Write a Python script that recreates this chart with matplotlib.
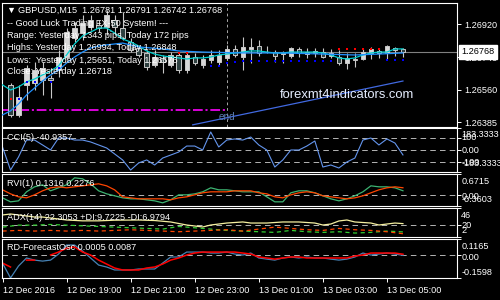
import numpy as np
import matplotlib
matplotlib.use('Agg')
import matplotlib.pyplot as plt
from matplotlib.transforms import blended_transform_factory

plt.rcParams['font.family'] = ['Liberation Sans', 'DejaVu Sans']
plt.rcParams['lines.scale_dashes'] = False

# ---------------- data (GBPUSD M15, one value per bar) ----------------
bar_idx = np.arange(0, 51)          # bar 0 = 12 Dec 17:00, 15 min per bar
candle_idx = np.arange(1, 51)

opens = [1.26588, 1.26424, 1.26588, 1.26598, 1.26615, 1.26626, 1.26669, 1.26740, 1.26844, 1.26871,
         1.26904, 1.26915, 1.26904, 1.26942, 1.26898, 1.26822, 1.26789, 1.26762, 1.26697, 1.26735,
         1.26697, 1.26751, 1.26669, 1.26740, 1.26697, 1.26724, 1.26713, 1.26735, 1.26784, 1.26740,
         1.26784, 1.26800, 1.26767, 1.26767, 1.26756, 1.26746, 1.26784, 1.26756, 1.26762, 1.26767,
         1.26746, 1.26740, 1.26707, 1.26729, 1.26729, 1.26762, 1.26773, 1.26762, 1.26789, 1.26781]
highs = [1.26598, 1.26588, 1.26697, 1.26713, 1.26713, 1.26642, 1.26778, 1.26898, 1.26931, 1.26969,
         1.26969, 1.26942, 1.26994, 1.26969, 1.26985, 1.26844, 1.26806, 1.26778, 1.26778, 1.26751,
         1.26767, 1.26767, 1.26767, 1.26762, 1.26751, 1.26778, 1.26778, 1.26806, 1.26806, 1.26849,
         1.26844, 1.26833, 1.26800, 1.26778, 1.26773, 1.26795, 1.26795, 1.26789, 1.26789, 1.26789,
         1.26784, 1.26778, 1.26762, 1.26762, 1.26784, 1.26795, 1.26789, 1.26806, 1.26795, 1.26791]
lows = [1.26413, 1.26413, 1.26506, 1.26560, 1.26533, 1.26517, 1.26631, 1.26724, 1.26822, 1.26833,
        1.26887, 1.26876, 1.26860, 1.26860, 1.26833, 1.26767, 1.26740, 1.26669, 1.26686, 1.26653,
        1.26686, 1.26653, 1.26653, 1.26697, 1.26680, 1.26707, 1.26697, 1.26724, 1.26740, 1.26669,
        1.26707, 1.26746, 1.26762, 1.26713, 1.26707, 1.26735, 1.26740, 1.26735, 1.26740, 1.26735,
        1.26735, 1.26697, 1.26675, 1.26686, 1.26724, 1.26729, 1.26735, 1.26729, 1.26746, 1.26742]
closes = [1.26424, 1.26522, 1.26680, 1.26669, 1.26680, 1.26615, 1.26740, 1.26876, 1.26898, 1.26925,
          1.26942, 1.26898, 1.26969, 1.26904, 1.26844, 1.26778, 1.26751, 1.26686, 1.26740, 1.26713,
          1.26751, 1.26669, 1.26751, 1.26707, 1.26729, 1.26751, 1.26751, 1.26784, 1.26751, 1.26795,
          1.26795, 1.26762, 1.26770, 1.26746, 1.26762, 1.26789, 1.26762, 1.26767, 1.26773, 1.26740,
          1.26762, 1.26707, 1.26735, 1.26724, 1.26767, 1.26784, 1.26762, 1.26800, 1.26778, 1.26768]

ma_fast = [1.26588, 1.26560, 1.26577, 1.26604, 1.26620, 1.26642, 1.26664, 1.26691, 1.26751, 1.26811,
           1.26855, 1.26876, 1.26898, 1.26898, 1.26871, 1.26838, 1.26822, 1.26800, 1.26773, 1.26756,
           1.26746, 1.26740, 1.26735, 1.26729, 1.26735, 1.26735, 1.26740, 1.26751, 1.26756, 1.26762,
           1.26767, 1.26773, 1.26773, 1.26767, 1.26762, 1.26762, 1.26767, 1.26767, 1.26767, 1.26767,
           1.26762, 1.26751, 1.26735, 1.26729, 1.26735, 1.26751, 1.26762, 1.26767, 1.26767, 1.26784,
           1.26784]
ma_slow_idx = [0, 1, 2, 3, 4, 5, 6, 7, 8, 9, 10, 11, 12, 13, 15, 17, 20, 22, 25, 30, 35, 40, 44, 47, 50]
ma_slow = [1.26424, 1.26446, 1.26484, 1.26533, 1.26571, 1.26609, 1.26642, 1.26669, 1.26707, 1.26740,
           1.26767, 1.26789, 1.26800, 1.26806, 1.26816, 1.26795, 1.26784, 1.26773, 1.26767, 1.26762,
           1.26762, 1.26756, 1.26751, 1.26756, 1.26762]

red_dot_idx = [1, 22, 23, 42, 43, 44, 45, 46, 47]
red_dot_px = [1.26511, 1.26762, 1.26762, 1.26784, 1.26784, 1.26784, 1.26784, 1.26784, 1.26784]
blue_dot_idx = [2, 3, 4, 6, 7, 26, 27, 28, 29, 30, 31, 32, 33, 34, 35, 36, 37, 38, 39, 40, 41, 48, 49, 50]
blue_dot_px = [1.26511, 1.26604, 1.26604, 1.26604, 1.26680, 1.26691, 1.26691, 1.26707, 1.26713,
               1.26718, 1.26718, 1.26718, 1.26718, 1.26718, 1.26718, 1.26718, 1.26718, 1.26718,
               1.26718, 1.26718, 1.26718, 1.26724, 1.26724, 1.26724]

trend_idx = [23.75, 50]
trend_px = [1.26370, 1.26609]
ycl_level = 1.26451      # magenta level, drawn up to the day break
day_break = 28
last_price = 1.26768
price_ticks = [1.26920, 1.26740, 1.26560, 1.26385]

cci = [25, -167, -58, 83, 83, 42, 0, 100, 100, 83, 83, 67, 42, 17, -33, -83, -167, -108, -83, -125,
       -67, -42, -17, 33, 33, 0, 150, 25, 83, 92, 83, 108, 42, 0, -142, -83, 0, 0, 33, 75,
       -142, -125, -150, -100, -67, 83, 100, 42, 92, 58, -40.9357]

rvi_main = [-0.097, -0.226, -0.194, 0.097, 0.258, 0.323, 0.129, 0.226, 0.323, 0.548,
            0.516, 0.355, 0.129, 0.032, -0.032, -0.097, -0.129, -0.129, -0.161, -0.194,
            -0.258, -0.161, 0.0, 0.0, 0.032, 0.097, 0.226, 0.161, 0.161, 0.129,
            0.097, 0.097, 0.097, -0.065, -0.226, -0.226, 0.065, 0.129, 0.129, 0.065,
            -0.032, -0.129, -0.194, -0.129, -0.032, 0.097, 0.29, 0.258, 0.258, 0.226, 0.1316]
rvi_signal = [0.161, 0.032, -0.065, -0.097, 0.0, 0.129, 0.226, 0.258, 0.226, 0.258,
              0.29, 0.323, 0.355, 0.29, 0.161, -0.065, -0.097, -0.129, -0.129, -0.129,
              -0.129, -0.161, -0.097, -0.065, 0.0, 0.065, 0.097, 0.097, 0.097, 0.129,
              0.129, 0.129, 0.065, 0.032, -0.065, -0.097, 0.0, 0.065, 0.097, 0.065,
              -0.032, -0.065, -0.097, -0.129, -0.097, -0.032, 0.065, 0.161, 0.226, 0.258, 0.2276]

adx_idx = [0, 1, 3, 4, 5, 6, 8, 10, 12, 14, 17, 19, 21, 23, 25, 26, 28, 30, 31, 33, 35, 37, 39,
           40, 41, 42, 43, 44, 46, 47, 49, 50]
adx = [35.4, 36.9, 33.9, 32.3, 32.3, 30.8, 27.8, 26.5, 26.5, 27.5, 27.8, 27.0, 24.8, 20.2, 17.2,
       20.2, 23.2, 24.8, 23.2, 23.2, 24.8, 24.8, 23.2, 20.2, 21.7, 26.3, 27.8, 24.8, 23.2, 20.2,
       23.2, 22.3053]
di_idx = [0, 2, 4, 6, 8, 10, 12, 14, 16, 18, 20, 22, 24, 26, 28, 30, 32, 34, 36, 38, 40, 42, 44,
          46, 48, 50]
di_plus = [17, 20, 20, 21, 20, 19, 18, 17, 16, 15, 14, 18, 16, 14, 12, 11, 10, 9, 12, 10, 9, 10,
           8, 9, 11, 9.7225]
di_minus = [11, 12, 11, 12, 11, 12, 11, 12, 13, 12, 11, 10, 11, 12, 13, 11, 14, 17, 15, 13, 12,
            15, 13, 12, 10, 6.9794]

rd_osc = [-0.054, -0.1598, -0.075, -0.018, -0.033, -0.040, -0.033, 0.010, 0.074, 0.074,
          0.031, -0.018, -0.068, -0.082, -0.103, -0.103, -0.103, -0.096, -0.096, -0.096,
          -0.054, -0.011, -0.011, 0.024, 0.024, 0.024, 0.017, 0.017, 0.024, 0.010,
          0.003, 0.017, -0.018, -0.026, -0.033, -0.018, -0.011, -0.018, -0.011, -0.018,
          -0.018, -0.026, -0.033, -0.026, -0.011, 0.017, 0.003, 0.010, 0.017, 0.010, 0.0005]
rd_sig = [-0.054, -0.082, np.nan, -0.033, -0.033, np.nan, 0.003, 0.024, 0.052, 0.060,
          0.024, 0.003, -0.033, -0.061, -0.089, -0.103, -0.103, -0.103, -0.089, -0.082,
          -0.061, -0.033, -0.018, 0.003, 0.017, 0.024, 0.024, 0.024, 0.024, 0.024,
          0.017, 0.010, -0.011, -0.018, -0.026, -0.018, -0.011, -0.011, -0.018, -0.018,
          -0.018, -0.018, -0.018, -0.018, -0.004, 0.003, 0.017, 0.017, 0.017, 0.017, 0.0087]

time_ticks = [0, 8, 16, 24, 32, 40, 48]
time_labels = ['12 Dec 2016', '12 Dec 19:00', '12 Dec 21:00', '12 Dec 23:00',
               '13 Dec 01:00', '13 Dec 03:00', '13 Dec 05:00']

# ---------------- figure ----------------
W, H = 500, 300
fig = plt.figure(figsize=(5, 3), dpi=100, facecolor='black')
FS = 6.6
WHITE = 'white'


def panel(top, bottom):
    ax = fig.add_axes([1.5 / W, 1 - bottom / H, 455.5 / W, (bottom - top) / H])
    ax.set_facecolor('black')
    for s in ax.spines.values():
        s.set_color(WHITE)
        s.set_linewidth(0.8)
    ax.set_xlim(-0.125, 56.75)
    ax.tick_params(axis='x', bottom=False, labelbottom=False)
    ax.yaxis.tick_right()
    ax.tick_params(axis='y', colors=WHITE, length=3, width=0.7, labelsize=FS, pad=2)
    return ax


def ptext(x, y, s, **kw):
    fig.text(x / W, 1 - y / H, s, fontsize=FS, va='center', ha='left', **kw)


ax = panel(2.7, 126.7)
ax.set_ylim(1.263598, 1.270362)

up = np.array(closes) >= np.array(opens)
ax.vlines(candle_idx, lows, highs, color='#c8c8c8', lw=0.8, zorder=2)
body_lo = np.minimum(opens, closes)
body_h = np.maximum(np.abs(np.array(closes) - np.array(opens)), 0.000015)
ax.bar(candle_idx, body_h, bottom=body_lo, width=0.55,
       color=np.where(up, '#d8d8d8', '#2e4040'), edgecolor='#c8c8c8', linewidth=0.7, zorder=3)

ax.plot(bar_idx, ma_fast, color='#00d0d0', lw=0.9, zorder=4)
ax.plot(ma_slow_idx, ma_slow, color='#1e90ff', lw=0.9, zorder=4)
ax.plot(red_dot_idx, red_dot_px, 's', color='#ff0000', ms=1.6, mew=0, zorder=5)
ax.plot(blue_dot_idx, blue_dot_px, 's', color='#0000ff', ms=1.6, mew=0, zorder=5)

ax.axhline(last_price, color='#808080', lw=0.8, zorder=1)
ax.axvline(day_break, color='#a8a8a8', lw=0.7, dashes=(2, 2), zorder=1)
ax.plot([-0.125, day_break], [ycl_level] * 2, color='#ff00ff', lw=1.2,
        dashes=(7, 2, 1.5, 2), zorder=2)
ax.plot(trend_idx, trend_px, color='#4169e1', lw=0.9, zorder=2)
ax.text(27.0, 1.26413, 'end', color='#5b7db0', fontsize=FS + 0.6, va='center', ha='left')
ax.text(34.6, 1.26535, 'forexmt4indicators.com', color='#e6eeff', fontsize=9.4,
        va='center', ha='left', zorder=6)

ax.set_yticks(price_ticks)
ax.set_yticklabels(['%.5f' % p for p in price_ticks])
ax.annotate('%.5f' % last_price, xy=(1, last_price),
            xycoords=blended_transform_factory(ax.transAxes, ax.transData),
            xytext=(3, 0), textcoords='offset points', fontsize=FS, color='black',
            va='center', ha='left', annotation_clip=False,
            bbox=dict(boxstyle='square,pad=0.25', fc='white', ec='white'))

ptext(6.5, 10.5, '\u25bc', color=WHITE)
ptext(18, 10.5, 'GBPUSD,M15  1.26781 1.26791 1.26742 1.26768', color=WHITE)
ptext(7, 24, '-- Good Luck Trading FX-50 System! ---', color=WHITE)
ptext(7, 36, 'Range: Yesterday 1343 pips, Today 172 pips', color=WHITE)
ptext(7, 48, 'Highs: Yesterday 1.26994, Today 1.26848', color=WHITE)
ptext(7, 60.5, 'Lows:  Yesterday 1,25651, Today 1.26676', color=WHITE)
ptext(7, 71.5, 'Close: Yesterday 1.26718', color=WHITE)


def side_labels(ax, items):
    tr = blended_transform_factory(ax.transAxes, ax.transData)
    for val, txt, dy in items:
        ax.annotate(txt, xy=(1, val), xycoords=tr, xytext=(3, dy), textcoords='offset points',
                    fontsize=FS, color=WHITE, va='center', ha='left', annotation_clip=False)
    ax.set_yticks([v for v, _, _ in items])
    ax.set_yticklabels([])


def level_lines(ax, levels):
    for lv in levels:
        ax.axhline(lv, color='#b4b4b4', lw=0.7, dashes=(4, 3), zorder=1)


# CCI
ax1 = panel(128, 172)
ax1.set_ylim(-183.3333, 183.3333)
level_lines(ax1, [100, 0, -100])
ax1.plot(bar_idx, cci, color='#6495ed', lw=0.8)
side_labels(ax1, [(183.3333, '183.3333', -5), (100, '100', 0), (0, '0.00', 0),
                  (-100, '-100', 0), (-183.3333, '-183.3333', 6)])
ptext(7, 138, 'CCI(5) -40.9357', color=WHITE)

# RVI
ax2 = panel(174, 206)
ax2.set_ylim(-0.3603, 0.6715)
level_lines(ax2, [0])
ax2.plot(bar_idx, rvi_main, color='#3cb371', lw=0.9)
ax2.plot(bar_idx, rvi_signal, color='#ff4500', lw=0.9)
side_labels(ax2, [(0.6715, '0.6715', -5.5), (0, '0.00', -1.5), (-0.3603, '-0.3603', 4.5)])
ptext(7, 183, 'RVI(1) 0.1316 0.2276', color=WHITE)

# ADX
ax3 = panel(208, 237)
ax3.set_ylim(2, 46)
level_lines(ax3, [20])
ax3.plot(adx_idx, adx, color='#f5f0a0', lw=0.9)
ax3.plot(di_idx, di_plus, color='#32cd32', lw=0.9, dashes=(3, 2.5))
ax3.plot(di_idx, di_minus, color='#ff4500', lw=0.9, dashes=(3, 2.5))
side_labels(ax3, [(46, '46', -5.5), (20, '20', 0), (2, '2', 5)])
ptext(7, 217, 'ADX(14) 22.3053 +DI:9.7225 -DI:6.9794', color=WHITE)

# RD-ForecastOsc
ax4 = panel(239, 278)
ax4.set_ylim(-0.1598, 0.1165)
level_lines(ax4, [0])
ax4.plot(bar_idx, rd_osc, color='#4682b4', lw=0.9)
ax4.plot(bar_idx, rd_sig, color='#ff0000', lw=1.1)
side_labels(ax4, [(0.1165, '0.1165', -5.5), (0, '0.00', -1.5), (-0.1598, '-0.1598', 4)])
ptext(7, 247, 'RD-ForecastOsc 0.0005 0.0087', color=WHITE)

ax4.tick_params(axis='x', bottom=True, labelbottom=True, colors=WHITE, length=3,
                width=0.7, labelsize=FS, pad=2.5)
ax4.set_xticks(time_ticks)
ax4.set_xticklabels(time_labels, ha='left')

fig.savefig('out.png', dpi=100, facecolor='black')
